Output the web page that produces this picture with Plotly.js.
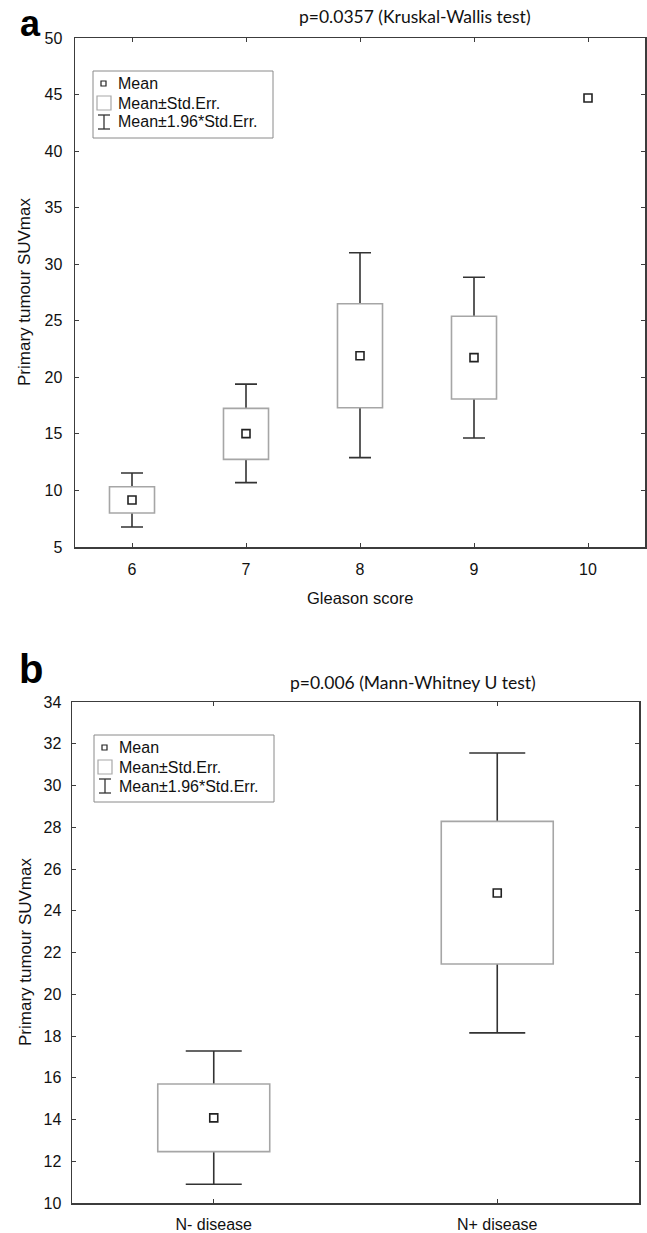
<!DOCTYPE html>
<html>
<head>
<meta charset="utf-8">
<script src="https://cdn.plot.ly/plotly-3.0.1.min.js"></script>
<style>html,body{margin:0;padding:0;background:#fff;}#chart{width:647px;height:1233px;}</style>
</head>
<body>
<div id="chart"></div>
<script>
// ---- Data ----
const gleasonScores = [6, 7, 8, 9];
const gleasonMeanX = [6, 7, 8, 9, 10];
const gleasonMean = [9.16, 15.02, 21.91, 21.74, 44.7];
const gleasonBoxMean = [9.16, 15.02, 21.91, 21.74];
const gleasonSeLow = [8.0, 12.75, 17.31, 18.09];
const gleasonSeHigh = [10.33, 17.26, 26.51, 25.40];
const gleasonCiLow = [6.77, 10.69, 12.9, 14.64];
const gleasonCiHigh = [11.54, 19.4, 31.02, 28.85];
const gleasonTicks = [6, 7, 8, 9, 10];
const suvTicksA = [5, 10, 15, 20, 25, 30, 35, 40, 45, 50];

const nodeGroups = ['N- disease', 'N+ disease'];
const nodeMean = [14.08, 24.85];
const nodeSeLow = [12.46, 21.45];
const nodeSeHigh = [15.70, 28.28];
const nodeCiLow = [10.90, 18.15];
const nodeCiHigh = [17.28, 31.56];
const suvTicksB = [10, 12, 14, 16, 18, 20, 22, 24, 26, 28, 30, 32, 34];

const legendLabels = ['Mean', 'Mean\u00b1Std.Err.', 'Mean\u00b11.96*Std.Err.'];

// ---- Layout helpers ----
const W = 647, H = 1233;
const px = x => x / W;
const py = y => 1 - y / H;
const TXT = 'Liberation Sans, Arial, sans-serif';
const TITLEF = 'Lato, Open Sans, sans-serif';
const AX = '#3c3c3c';
const BOXW = 0.395;

// whiskers: transparent bar at the mean carrying asymmetric error bars (CI),
// then the white SE box drawn on top so the whisker only shows outside it.
function boxTraces(x, mean, lo, hi, cilo, cihi, xa, ya, capHalf) {
  const whisk = {
    type: 'bar', x: x, y: mean, width: BOXW,
    marker: {color: 'rgba(0,0,0,0)', line: {width: 0}},
    error_y: {type: 'data', symmetric: false,
      array: cihi.map((v, i) => v - mean[i]),
      arrayminus: cilo.map((v, i) => mean[i] - v),
      color: '#333333', thickness: 1.6, width: capHalf},
    xaxis: xa, yaxis: ya, showlegend: false, hoverinfo: 'skip'
  };
  const box = {
    type: 'bar', x: x, base: lo, y: hi.map((v, i) => v - lo[i]), width: BOXW,
    marker: {color: '#ffffff', line: {color: '#a6a6a6', width: 1.6}},
    xaxis: xa, yaxis: ya, showlegend: false, hoverinfo: 'skip'
  };
  return [whisk, box];
}

const meanMarker = {symbol: 'square-open', size: 8, color: '#222', line: {width: 1.6, color: '#222'}};

const data = [
  ...boxTraces(gleasonScores, gleasonBoxMean, gleasonSeLow, gleasonSeHigh, gleasonCiLow, gleasonCiHigh, 'x', 'y', 11),
  {type: 'scatter', mode: 'markers', x: gleasonMeanX, y: gleasonMean, xaxis: 'x', yaxis: 'y',
   marker: meanMarker, showlegend: false, hoverinfo: 'skip'},
  ...boxTraces(nodeGroups, nodeMean, nodeSeLow, nodeSeHigh, nodeCiLow, nodeCiHigh, 'x2', 'y2', 28),
  {type: 'scatter', mode: 'markers', x: nodeGroups, y: nodeMean, xaxis: 'x2', yaxis: 'y2',
   marker: meanMarker, showlegend: false, hoverinfo: 'skip'}
];

const axisCommon = {
  showline: true, linecolor: AX, linewidth: 1.5, mirror: 'ticks',
  ticks: 'inside', ticklen: 4, tickwidth: 1, tickcolor: AX,
  showgrid: false, zeroline: false, fixedrange: true,
  tickfont: {family: TXT, size: 16, color: '#111'}
};

// legend drawing (shapes + text) for a panel whose legend box top-left is (lx, ly)
function legendParts(lx, ly) {
  const shapes = [
    {type: 'rect', xref: 'paper', yref: 'paper', x0: px(lx), x1: px(lx + 180), y0: py(ly), y1: py(ly + 67),
     line: {color: '#8a8a8a', width: 1}, fillcolor: '#ffffff', layer: 'above'},
    {type: 'rect', xref: 'paper', yref: 'paper', x0: px(lx + 8), x1: px(lx + 13), y0: py(ly + 10), y1: py(ly + 15),
     line: {color: '#222', width: 1.2}, layer: 'above'},
    {type: 'rect', xref: 'paper', yref: 'paper', x0: px(lx + 4), x1: px(lx + 18), y0: py(ly + 25), y1: py(ly + 39),
     line: {color: '#a8a8a8', width: 1.2}, layer: 'above'},
    {type: 'line', xref: 'paper', yref: 'paper', x0: px(lx + 11), x1: px(lx + 11), y0: py(ly + 44), y1: py(ly + 58),
     line: {color: '#333', width: 1.3}, layer: 'above'},
    {type: 'line', xref: 'paper', yref: 'paper', x0: px(lx + 5), x1: px(lx + 17), y0: py(ly + 44), y1: py(ly + 44),
     line: {color: '#333', width: 1.3}, layer: 'above'},
    {type: 'line', xref: 'paper', yref: 'paper', x0: px(lx + 5), x1: px(lx + 17), y0: py(ly + 58), y1: py(ly + 58),
     line: {color: '#333', width: 1.3}, layer: 'above'}
  ];
  const offs = [12.5, 32, 51];
  const ann = legendLabels.map((t, i) => ({
    text: t, xref: 'paper', yref: 'paper', x: px(lx + 23), y: py(ly + offs[i]),
    xanchor: 'left', yanchor: 'middle', showarrow: false,
    font: {family: TXT, size: 16, color: '#111'}
  }));
  return {shapes, ann};
}

const legA = legendParts(93, 71);
const legB = legendParts(94, 735);

const annotations = [
  {text: '<b>a</b>', xref: 'paper', yref: 'paper', x: px(30), y: py(23), xanchor: 'center', yanchor: 'middle',
   showarrow: false, font: {family: TXT, size: 36, color: '#000'}},
  {text: '<b>b</b>', xref: 'paper', yref: 'paper', x: px(31), y: py(669), xanchor: 'center', yanchor: 'middle',
   showarrow: false, font: {family: TXT, size: 40, color: '#000'}},
  {text: 'p=0.0357 (Kruskal-Wallis test)', xref: 'paper', yref: 'paper', x: px(415), y: py(17),
   xanchor: 'center', yanchor: 'middle', showarrow: false, font: {family: TITLEF, size: 17.5, color: '#111'}},
  {text: 'p=0.006 (Mann-Whitney U test)', xref: 'paper', yref: 'paper', x: px(413), y: py(682),
   xanchor: 'center', yanchor: 'middle', showarrow: false, font: {family: TITLEF, size: 17.5, color: '#111'}},
  {text: 'Primary tumour SUVmax', xref: 'paper', yref: 'paper', x: px(25), y: py(292), textangle: -90,
   xanchor: 'center', yanchor: 'middle', showarrow: false, font: {family: TXT, size: 17, color: '#111'}},
  {text: 'Primary tumour SUVmax', xref: 'paper', yref: 'paper', x: px(25), y: py(952), textangle: -90,
   xanchor: 'center', yanchor: 'middle', showarrow: false, font: {family: TXT, size: 17, color: '#111'}},
  {text: 'Gleason score', xref: 'paper', yref: 'paper', x: px(360), y: py(598),
   xanchor: 'center', yanchor: 'middle', showarrow: false, font: {family: TXT, size: 16.5, color: '#111'}},
  ...legA.ann, ...legB.ann
];

const layout = {
  width: W, height: H,
  margin: {l: 0, r: 0, t: 0, b: 0},
  paper_bgcolor: '#fff', plot_bgcolor: '#fff',
  showlegend: false,
  barmode: 'overlay',
  xaxis: Object.assign({}, axisCommon, {
    domain: [px(75), px(645)], anchor: 'y', range: [5.5, 10.5],
    tickvals: gleasonTicks, ticktext: gleasonTicks.map(String), ticklabelstandoff: 7
  }),
  yaxis: Object.assign({}, axisCommon, {
    domain: [py(547), py(38)], anchor: 'x', range: [5, 50],
    tickvals: suvTicksA, ticktext: suvTicksA.map(String), ticklabelstandoff: 8
  }),
  xaxis2: Object.assign({}, axisCommon, {
    domain: [px(72), px(639)], anchor: 'y2', type: 'category', range: [-0.5, 1.5],
    categoryorder: 'array', categoryarray: nodeGroups, ticklabelstandoff: 6
  }),
  yaxis2: Object.assign({}, axisCommon, {
    domain: [py(1203), py(702)], anchor: 'x2', range: [10, 34],
    tickvals: suvTicksB, ticktext: suvTicksB.map(String), ticklabelstandoff: 6
  }),
  shapes: [...legA.shapes, ...legB.shapes],
  annotations: annotations
};

Plotly.newPlot('chart', data, layout, {displayModeBar: false, staticPlot: true});
</script>
</body>
</html>
